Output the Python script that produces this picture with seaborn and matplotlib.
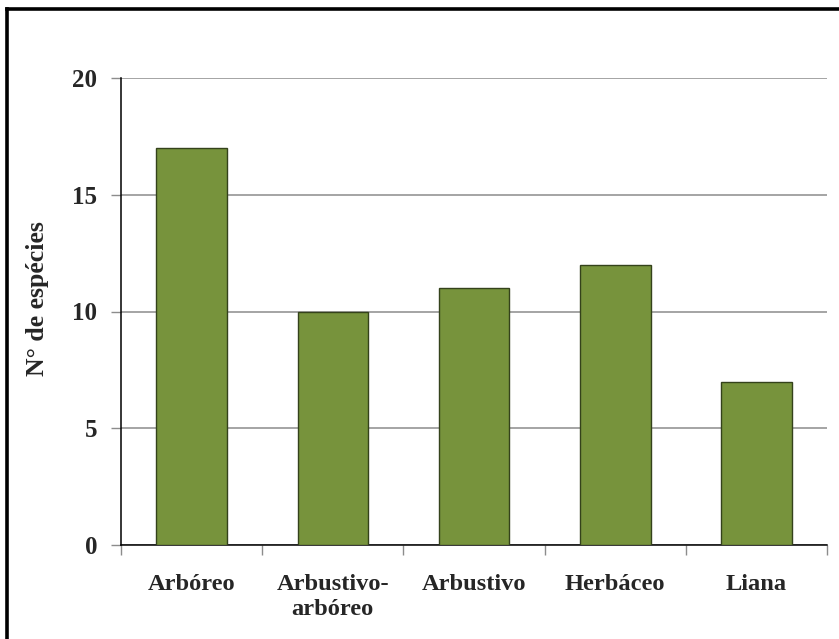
import matplotlib
matplotlib.use("Agg")
import matplotlib.pyplot as plt
import seaborn as sns
import pandas as pd
from matplotlib.lines import Line2D

categories = ["Arbóreo", "Arbustivo-\narbóreo", "Arbustivo", "Herbáceo", "Liana"]
values = [17, 10, 11, 12, 7]
yticks = [0, 5, 10, 15, 20]

df = pd.DataFrame({"cat": categories, "n": values})

sns.set_theme(style="white")
plt.rcParams['font.family'] = ['Liberation Serif', 'DejaVu Serif']

fig = plt.figure(figsize=(8.39, 6.39), dpi=100)
ax = fig.add_axes([121/839, 1-545/639, (827-121)/839, (545-78)/639])

sns.barplot(data=df, x="cat", y="n", ax=ax, color="#77933C", width=0.5,
            edgecolor="#34421B", linewidth=1.0, saturation=1, zorder=3)

ax.set_xlim(-0.5, len(categories)-0.5)
ax.set_ylim(0, 20)
ax.set_yticks(yticks)
ax.set_yticklabels([str(t) for t in yticks], fontsize=18, fontweight='bold')
ax.yaxis.grid(True, color="#8C8C8C", linewidth=1.1, zorder=0)
ax.set_axisbelow(True)

ax.set_xticks(range(len(categories)))
ax.set_xticklabels(categories, fontsize=17.6, fontweight='bold', linespacing=1.25)
ax.tick_params(axis='x', length=0, pad=21)
ax.tick_params(axis='y', length=7, color="#8C8C8C", width=1, pad=10, left=True)
# category boundary ticks
ax.set_xticks([i - 0.5 for i in range(len(categories)+1)], minor=True)
ax.tick_params(axis='x', which='minor', length=7, color="#8C8C8C", width=1, bottom=True)

for s in ["top", "right"]:
    ax.spines[s].set_visible(False)
for s in ["left", "bottom"]:
    ax.spines[s].set_visible(True)
    ax.spines[s].set_color("black")
    ax.spines[s].set_linewidth(1.1)

ax.set_xlabel("")
ax.set_ylabel("N° de espécies", fontsize=18.5, fontweight='bold')
ax.yaxis.set_label_coords((49 - 121) / (827 - 121), (545 - 299) / (545 - 78))

# outer chart frame (left and top edges visible)
fig.add_artist(Line2D([7/839, 7/839], [0, 1-9/639], transform=fig.transFigure,
                      color="black", linewidth=2.6, solid_capstyle='projecting'))
fig.add_artist(Line2D([7/839, 1.0], [1-9/639, 1-9/639], transform=fig.transFigure,
                      color="black", linewidth=2.6, solid_capstyle='projecting'))

fig.savefig("out.png", dpi=100)
